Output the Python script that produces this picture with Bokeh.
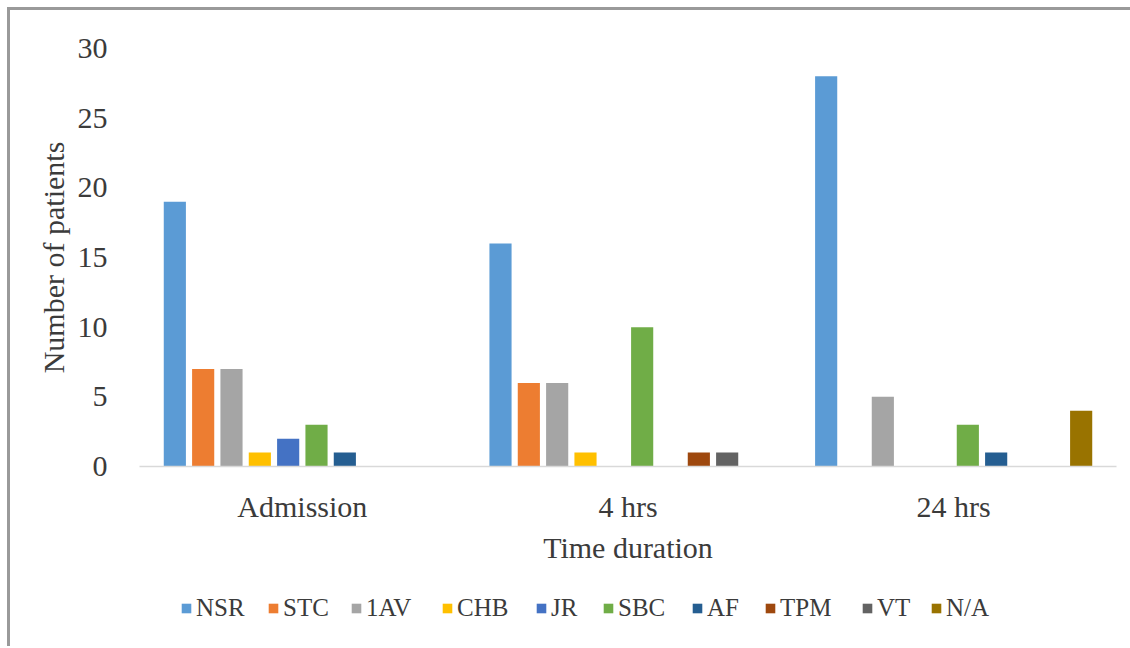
from bokeh.plotting import figure
from bokeh.layouts import column
from bokeh.models import ColumnDataSource, FactorRange, Range1d, Legend, LegendItem
from bokeh.transform import dodge
from bokeh.embed import file_html
from bokeh.resources import INLINE

# Heart rhythm of patients at each time point
durations = ["Admission", "4 hrs", "24 hrs"]
rhythms = ["NSR", "STC", "1AV", "CHB", "JR", "SBC", "AF", "TPM", "VT", "N/A"]

nsr = [19, 16, 28]
stc = [7, 6, 0]
first_av = [7, 6, 5]
chb = [1, 1, 0]
jr = [2, 0, 0]
sbc = [3, 10, 3]
af = [1, 0, 1]
tpm = [0, 1, 0]
vt = [0, 1, 0]
na = [0, 0, 4]

y_ticks = [0, 5, 10, 15, 20, 25, 30]

colors = ["#5B9BD5", "#ED7D31", "#A5A5A5", "#FFC000", "#4472C4",
          "#70AD47", "#255E91", "#9E480E", "#636363", "#997300"]

series = [nsr, stc, first_av, chb, jr, sbc, af, tpm, vt, na]
data = {"duration": durations}
for name, vals in zip(rhythms, series):
    data[name] = vals
source = ColumnDataSource(data)

FONT = "Liberation Serif"
TEXT = "#3b3b3b"
W = 1120

p = figure(
    x_range=FactorRange(*durations, range_padding=0),
    y_range=Range1d(0, 30),
    width=W, height=580,
    output_backend="svg", toolbar_location=None,
    min_border_left=129, min_border_right=14,
    min_border_top=38, min_border_bottom=124,
)
p.outline_line_color = None
p.background_fill_color = "white"
p.border_fill_color = "white"
p.xgrid.grid_line_color = None
p.ygrid.grid_line_color = None

step = 0.087
bar_w = 0.068
for i, (name, col) in enumerate(zip(rhythms, colors)):
    p.vbar(x=dodge("duration", (i - 4.5) * step, range=p.x_range),
           top=name, width=bar_w, source=source,
           fill_color=col, line_color=None)

# axes
p.yaxis.ticker = y_ticks
p.yaxis.axis_line_color = None
p.yaxis.major_tick_line_color = None
p.yaxis.minor_tick_line_color = None
p.yaxis.major_label_standoff = 26
p.yaxis.major_label_text_font = FONT
p.yaxis.major_label_text_font_size = "30px"
p.yaxis.major_label_text_color = TEXT
p.yaxis.axis_label = "Number of patients"
p.yaxis.axis_label_text_font = FONT
p.yaxis.axis_label_text_font_size = "30px"
p.yaxis.axis_label_text_font_style = "normal"
p.yaxis.axis_label_text_color = TEXT
p.yaxis.axis_label_standoff = 5

p.xaxis.axis_line_color = "#d9d9d9"
p.xaxis.axis_line_width = 1.5
p.xaxis.major_tick_line_color = None
p.xaxis.minor_tick_line_color = None
p.xaxis.major_label_standoff = 17
p.xaxis.major_label_text_font = FONT
p.xaxis.major_label_text_font_size = "30px"
p.xaxis.major_label_text_color = TEXT
p.xaxis.axis_label = "Time duration"
p.xaxis.axis_label_text_font = FONT
p.xaxis.axis_label_text_font_size = "30px"
p.xaxis.axis_label_text_font_style = "normal"
p.xaxis.axis_label_text_color = TEXT
p.xaxis.axis_label_standoff = 5

# legend strip under the chart, one entry per rhythm
leg_fig = figure(
    x_range=Range1d(0, 1), y_range=Range1d(0, 1),
    width=W, height=56, output_backend="svg", toolbar_location=None,
    x_axis_location=None, y_axis_location=None, min_border=0,
)
leg_fig.outline_line_color = None
leg_fig.xgrid.grid_line_color = None
leg_fig.ygrid.grid_line_color = None
leg_fig.border_fill_color = "white"

# entry offsets from the left edge of the (column-aligned) plot frame
entry_x = [41, 128, 211, 302, 396, 463, 552, 625, 722, 791]
for name, col, ex in zip(rhythms, colors, entry_x):
    # zero-size swatch renderer: only its legend glyph is visible
    r = leg_fig.vbar(x=[0.5], top=[0], bottom=[0], width=0,
                     fill_color=col, line_color=None)
    leg = Legend(
        items=[LegendItem(label=name, renderers=[r])],
        location=(ex, 24),
        label_text_font=FONT, label_text_font_size="25px", label_text_color=TEXT,
        glyph_width=12, glyph_height=12, label_standoff=4,
        padding=0, margin=0, border_line_color=None, background_fill_alpha=0,
        label_height=20,
    )
    leg_fig.add_layout(leg, "center")

layout = column(p, leg_fig, spacing=0)
layout.margin = (7, 0, 0, 7)
layout.styles = {"border-left": "3px solid #9a9a9a", "border-top": "3px solid #9a9a9a"}

open("out.html", "w").write(file_html(layout, INLINE))
